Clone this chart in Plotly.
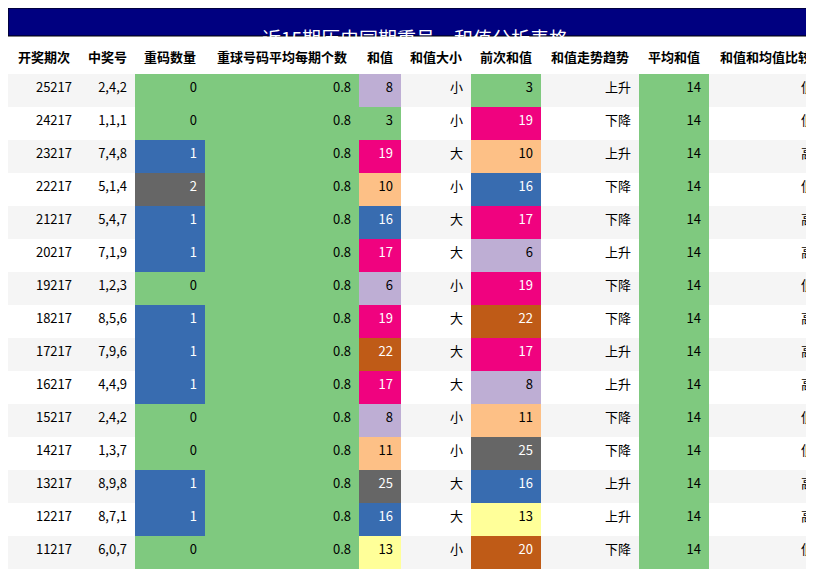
import plotly.graph_objects as go

periods = ["25217","24217","23217","22217","21217","20217","19217","18217","17217","16217","15217","14217","13217","12217","11217"]
numbers = ["2,4,2","1,1,1","7,4,8","5,1,4","5,4,7","7,1,9","1,2,3","8,5,6","7,9,6","4,4,9","2,4,2","1,3,7","8,9,8","8,7,1","6,0,7"]
repeat_cnt = [0,0,1,2,1,1,0,1,1,1,0,0,1,1,0]
avg_repeat = [0.8]*15
sums = [8,3,19,10,16,17,6,19,22,17,8,11,25,16,13]
size = ["小","小","大","小","大","大","小","大","大","大","小","小","大","大","小"]
prev_sums = [3,19,10,16,17,6,19,22,17,8,11,25,16,13,20]
trend = ["上升","下降","上升","下降","下降","上升","下降","下降","上升","上升","下降","下降","上升","上升","下降"]
avg_sum = [14]*15
compare = ["低","低","高","低","高","高","低","高","高","高","低","低","高","高","低"]

headers = ["开奖期次","中奖号","重码数量","重球号码平均每期个数","和值","和值大小","前次和值","和值走势趋势","平均和值","和值和均值比较"]
widths = [72,55,70,154,42,70,70,98,70,113]

GREEN="#7fc97f"; BLUE="#386cb0"; GRAY="#666666"; PINK="#f0027f"; LAV="#beaed4"; PEACH="#fdc086"; BROWN="#bf5b17"; YEL="#ffff99"
sum_col = {3:GREEN,6:LAV,8:LAV,10:PEACH,11:PEACH,13:YEL,16:BLUE,17:PINK,19:PINK,20:BROWN,22:BROWN,25:GRAY}
rep_col = {0:GREEN,1:BLUE,2:GRAY}
dark = {BLUE,GRAY,PINK,BROWN}
stripe = ["#f5f5f5" if i%2==0 else "white" for i in range(15)]

def txtc(cols): return ["white" if c in dark else "black" for c in cols]

rc = [rep_col[v] for v in repeat_cnt]
sc = [sum_col[v] for v in sums]
pc = [sum_col[v] for v in prev_sums]
fills = [stripe, stripe, rc, [GREEN]*15, sc, stripe, pc, stripe, [GREEN]*15, stripe]
fcols = [["black"]*15, ["black"]*15, txtc(rc), ["black"]*15, txtc(sc), ["black"]*15, txtc(pc), ["black"]*15, ["black"]*15, ["black"]*15]

fig = go.Figure(go.Table(
    columnwidth=widths,
    domain=dict(x=[0,1], y=[0, 545/576]),
    header=dict(values=[f"<b>{h}</b>" for h in headers], height=33, fill_color="white",
                line=dict(width=0, color="white"), align="center",
                font=dict(size=13, color="black", family="Noto Sans CJK SC")),
    cells=dict(values=[periods, numbers, repeat_cnt, avg_repeat, sums, size, prev_sums, trend, avg_sum, compare],
               height=33, fill_color=fills, line=dict(width=0, color="white"), align="right",
               font=dict(size=13, color=fcols, family="Noto Sans CJK SC")),
))
fig.update_layout(width=814, height=576, margin=dict(l=0,r=0,t=0,b=0), paper_bgcolor="white",
    shapes=[dict(type="rect", xref="paper", yref="paper", x0=0, x1=1, y0=548/576, y1=1, layer="above",
                 fillcolor="#000080", line=dict(color="black", width=1))],
    annotations=[dict(text="近15期历史同期重号，和值分析表格", xref="paper", yref="paper", x=0.5, y=562/576,
                      showarrow=False, font=dict(size=19, color="white", family="Noto Sans CJK SC"))])
fig.write_html("out.html")
